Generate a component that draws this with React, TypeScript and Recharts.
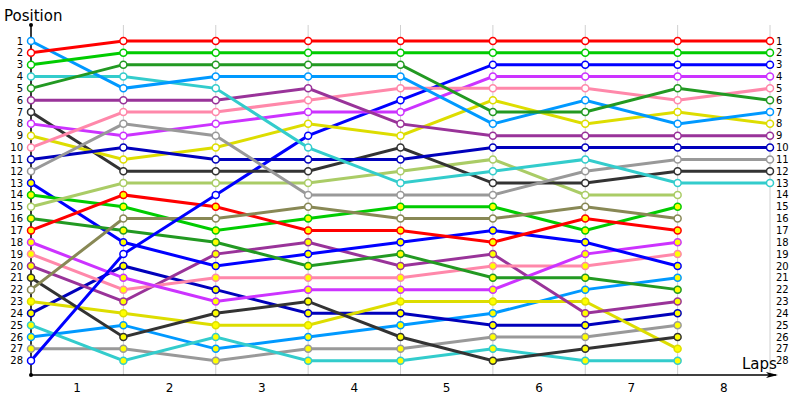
import React from 'react';
import { LineChart, Line, XAxis, YAxis, CartesianGrid, ReferenceDot } from 'recharts';

// lap 0 is the starting grid, lap labels sit between the lap columns
const laps = [0, 1, 2, 3, 4, 5, 6, 7, 8];
const lapTicks = [0.5, 1.5, 2.5, 3.5, 4.5, 5.5, 6.5, 7.5];
const lapLabels = ['1', '2', '3', '4', '5', '6', '7', '8'];
const positionTicks = [1, 2, 3, 4, 5, 6, 7, 8, 9, 10, 11, 12, 13, 14, 15, 16, 17, 18, 19, 20, 21, 22, 23, 24, 25, 26, 27, 28];

// position per lap (cars that were lapped stop after lap 7)
const redA = [2, 1, 1, 1, 1, 1, 1, 1, 1];
const greenA = [3, 2, 2, 2, 2, 2, 2, 2, 2];
const darkGreenA = [5, 3, 3, 3, 3, 7, 7, 5, 6];
const skyBlueA = [1, 5, 4, 4, 4, 8, 6, 8, 7];
const cyanA = [4, 4, 5, 10, 13, 12, 11, 13, 13];
const purpleA = [6, 6, 6, 5, 8, 9, 9, 9, 9];
const pinkA = [10, 7, 7, 6, 5, 5, 5, 6, 5];
const grayA = [12, 8, 9, 14, 14, 14, 12, 11, 11];
const violetA = [8, 9, 8, 7, 7, 4, 4, 4, 4];
const navyA = [11, 10, 11, 11, 11, 10, 10, 10, 10];
const yellowA = [9, 11, 10, 8, 9, 6, 8, 7, 8];
const blackA = [7, 12, 12, 12, 10, 13, 13, 12, 12];
const blueA = [28, 19, 14, 9, 6, 3, 3, 3, 3];
const lightGreen = [15, 13, 13, 13, 12, 11, 14, 14];
const olive = [22, 16, 16, 15, 16, 16, 15, 16];
const redB = [17, 14, 15, 17, 17, 18, 16, 17];
const greenB = [14, 15, 17, 16, 15, 15, 17, 15];
const darkGreenB = [16, 17, 18, 20, 19, 21, 21, 22];
const blueB = [13, 18, 20, 19, 18, 17, 18, 20];
const violetB = [18, 21, 23, 22, 22, 22, 19, 18];
const pinkB = [19, 22, 21, 21, 21, 20, 20, 19];
const purpleB = [20, 23, 19, 18, 20, 19, 24, 23];
const blackB = [21, 26, 24, 23, 26, 28, 27, 26];
const yellowB = [23, 24, 25, 25, 23, 23, 23, 27];
const navyB = [24, 20, 22, 24, 24, 25, 25, 24];
const cyanB = [25, 28, 26, 28, 28, 27, 28, 28];
const skyBlueB = [26, 25, 27, 26, 25, 24, 22, 21];
const grayB = [27, 27, 28, 27, 27, 26, 26, 25];

const series = [
  { key: 'grayB', values: grayB, color: '#999999', lapped: true },
  { key: 'skyBlueB', values: skyBlueB, color: '#0099ff', lapped: true },
  { key: 'cyanB', values: cyanB, color: '#33cccc', lapped: true },
  { key: 'navyB', values: navyB, color: '#0000bb', lapped: true },
  { key: 'yellowB', values: yellowB, color: '#dddd00', lapped: true },
  { key: 'blackB', values: blackB, color: '#333333', lapped: true },
  { key: 'purpleB', values: purpleB, color: '#993399', lapped: true },
  { key: 'pinkB', values: pinkB, color: '#ff88aa', lapped: true },
  { key: 'violetB', values: violetB, color: '#cc33ff', lapped: true },
  { key: 'blueB', values: blueB, color: '#0000ff', lapped: true },
  { key: 'darkGreenB', values: darkGreenB, color: '#229922', lapped: true },
  { key: 'greenB', values: greenB, color: '#00cc00', lapped: true },
  { key: 'redB', values: redB, color: '#ff0000', lapped: true },
  { key: 'olive', values: olive, color: '#888855', lapped: false },
  { key: 'lightGreen', values: lightGreen, color: '#aacc66', lapped: false },
  { key: 'blueA', values: blueA, color: '#0000ff', lapped: false },
  { key: 'blackA', values: blackA, color: '#333333', lapped: false },
  { key: 'yellowA', values: yellowA, color: '#dddd00', lapped: false },
  { key: 'navyA', values: navyA, color: '#0000bb', lapped: false },
  { key: 'violetA', values: violetA, color: '#cc33ff', lapped: false },
  { key: 'grayA', values: grayA, color: '#999999', lapped: false },
  { key: 'pinkA', values: pinkA, color: '#ff88aa', lapped: false },
  { key: 'purpleA', values: purpleA, color: '#993399', lapped: false },
  { key: 'cyanA', values: cyanA, color: '#33cccc', lapped: false },
  { key: 'skyBlueA', values: skyBlueA, color: '#0099ff', lapped: false },
  { key: 'darkGreenA', values: darkGreenA, color: '#229922', lapped: false },
  { key: 'greenA', values: greenA, color: '#00cc00', lapped: false },
  { key: 'redA', values: redA, color: '#ff0000', lapped: false },
];

const data = laps.map((lap, i) => {
  const row: Record<string, number | null> = { lap };
  series.forEach(s => {
    row[s.key] = s.values[i] ?? null;
  });
  return row;
});

const yDomain: [number, number] = [-0.35, 29.21];
const font = 'DejaVu Sans, Verdana, sans-serif';

const Arrow = ({ cx, cy }: any) => (
  <g>
    <line x1={cx} y1={cy} x2={cx + 6} y2={cy} stroke="#000" strokeWidth={1.5} />
    <path d={`M${cx + 8},${cy} L${cx - 4},${cy - 3} L${cx - 1},${cy} L${cx - 4},${cy + 3} Z`} fill="#000" />
  </g>
);

export default function App() {
  return (
    <div style={{ position: 'absolute', left: 0, top: 0, width: 800, height: 400, background: '#fff' }}>
      <LineChart width={800} height={400} data={data} margin={{ top: 25, right: 0, bottom: 0, left: 0 }}>
        <CartesianGrid stroke="#d0d0d0" strokeWidth={1} verticalValues={laps} horizontalValues={positionTicks} />
        <XAxis
          dataKey="lap"
          type="number"
          domain={[0, 8]}
          ticks={lapTicks}
          interval={0}
          tickFormatter={(v: number) => lapLabels[Math.round(v - 0.5)]}
          axisLine={{ stroke: '#000', strokeWidth: 1.5 }}
          tickLine={false}
          height={25}
          tick={{ fill: '#000', fontSize: 12, fontFamily: font }}
        />
        <YAxis
          yAxisId="left"
          reversed
          type="number"
          domain={yDomain}
          ticks={positionTicks}
          interval={0}
          width={31}
          axisLine={{ stroke: '#000', strokeWidth: 1.5 }}
          tickLine={{ stroke: '#000' }}
          tickSize={4}
          tickMargin={4}
          tick={{ fill: '#000', fontSize: 10, fontFamily: font }}
        />
        <YAxis
          yAxisId="right"
          orientation="right"
          reversed
          type="number"
          domain={yDomain}
          allowDataOverflow
          ticks={positionTicks}
          interval={0}
          width={30}
          axisLine={false}
          tickLine={false}
          tickSize={2}
          tickMargin={4}
          tick={{ fill: '#000', fontSize: 10, fontFamily: font }}
        />
        {/* invisible helper so the right-hand position axis gets drawn */}
        <Line
          yAxisId="right"
          dataKey="redA"
          stroke="none"
          dot={false}
          activeDot={false}
          legendType="none"
          isAnimationActive={false}
        />
        {series.map(s => (
          <Line
            key={s.key}
            yAxisId="left"
            type="linear"
            dataKey={s.key}
            stroke={s.color}
            strokeWidth={3}
            dot={{ r: 3.5, fill: s.lapped ? '#ffff00' : '#ffffff', stroke: s.color, strokeWidth: 1.5 }}
            activeDot={false}
            isAnimationActive={false}
          />
        ))}
        <ReferenceDot yAxisId="left" x={0} y={yDomain[0]} r={2} fill="#000" stroke="none" ifOverflow="visible" />
        <ReferenceDot yAxisId="left" x={0} y={yDomain[1]} r={2} fill="#000" stroke="none" ifOverflow="visible" />
        <ReferenceDot yAxisId="left" x={8} y={yDomain[1]} ifOverflow="visible" shape={<Arrow />} />
      </LineChart>
      <svg width={800} height={400} style={{ position: 'absolute', left: 0, top: 0, pointerEvents: 'none' }}>
        <text x={4} y={21} fontSize={15} fontFamily={font} fill="#000">Position</text>
        <text x={742} y={369} fontSize={15} fontFamily={font} fill="#000">Laps</text>
      </svg>
    </div>
  );
}
